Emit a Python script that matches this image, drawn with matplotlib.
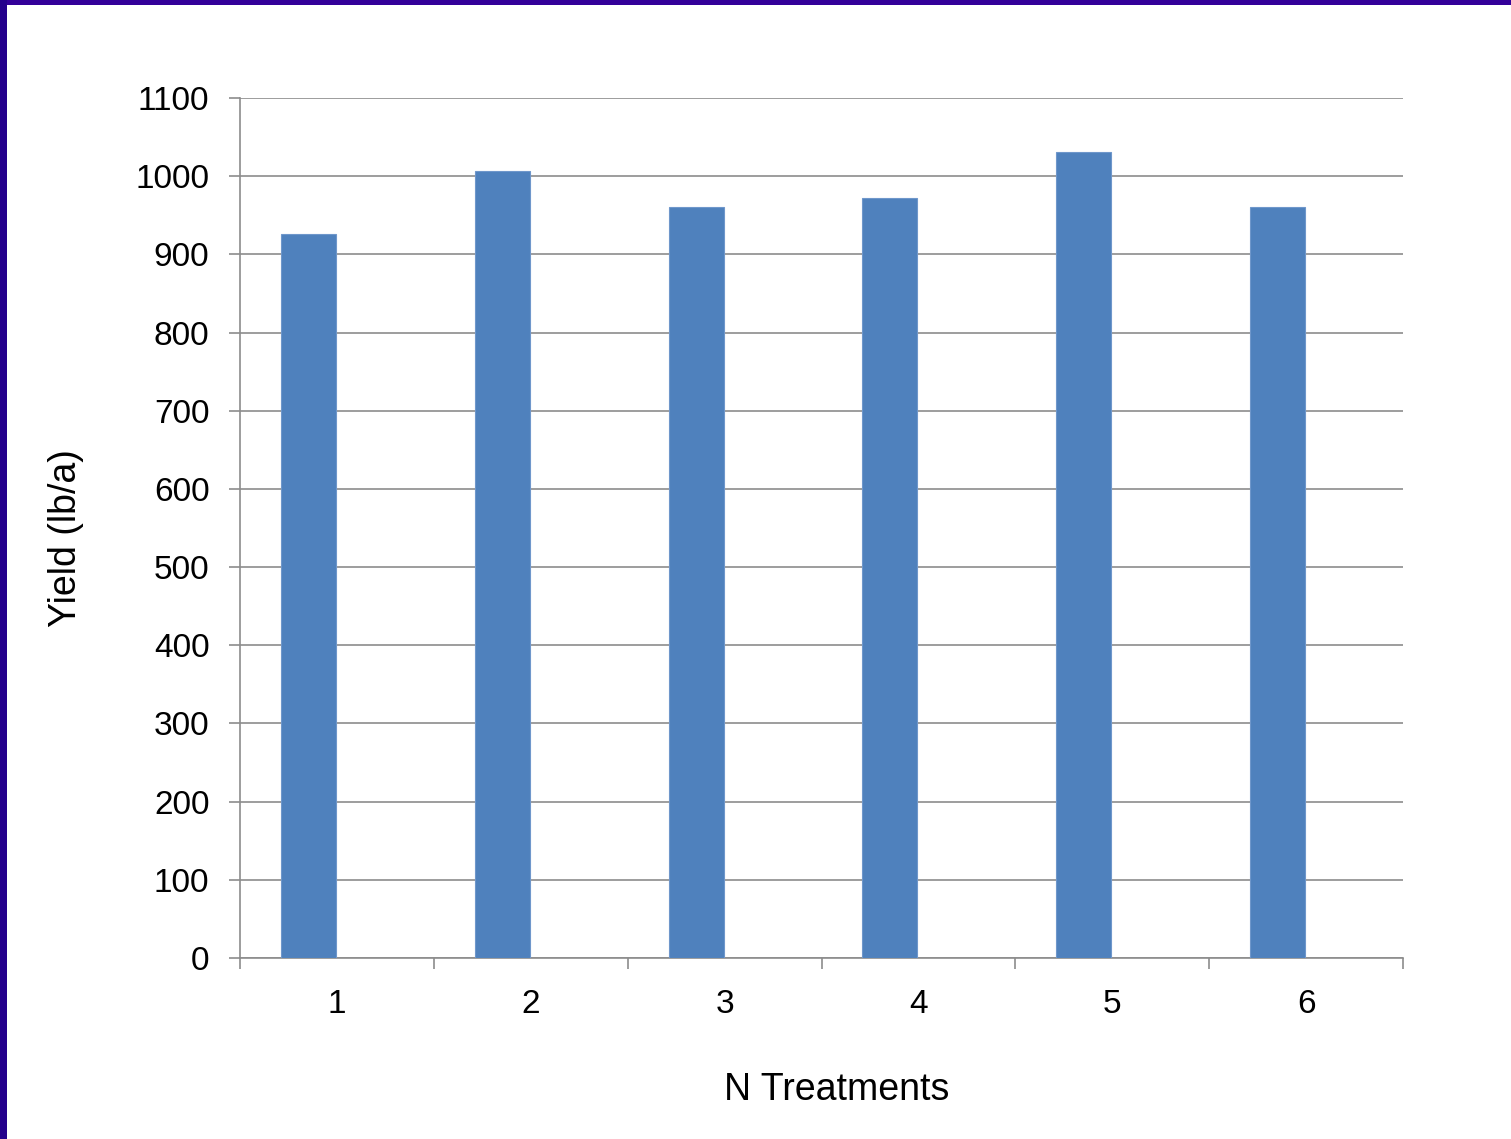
import matplotlib
matplotlib.use("Agg")
import matplotlib.pyplot as plt
import numpy as np
from matplotlib.patches import Rectangle

plt.rcParams['font.family'] = ['Liberation Sans', 'DejaVu Sans']

treatments = ["1", "2", "3", "4", "5", "6"]
yield_lb_a = [926, 1006, 960, 972, 1031, 960]
y_ticks = [0, 100, 200, 300, 400, 500, 600, 700, 800, 900, 1000, 1100]

W, H = 1511, 1139
fig = plt.figure(figsize=(W / 100, H / 100), dpi=100)
fig.patch.set_facecolor("white")

# slide frame: dark violet strips along the top and left edges
fig.add_artist(Rectangle((0, 1 - 5 / H), 1, 5 / H, transform=fig.transFigure,
                         facecolor="#330099", edgecolor="none", zorder=5))
fig.add_artist(Rectangle((0, 0), 7 / W, 1, transform=fig.transFigure,
                         facecolor="#24008c", edgecolor="none", zorder=5))

left, right, top, bottom = 240, 1403, 98, 958
ax = fig.add_axes([left / W, 1 - bottom / H, (right - left) / W, (bottom - top) / H])

x = np.arange(1, len(treatments) + 1)
bar_w = 0.284
ax.bar(x - 0.005, yield_lb_a, width=-bar_w, align="edge", color="#4f81bd",
       edgecolor="#6f97cb", linewidth=0.8, zorder=3)

ax.set_xlim(0.5, len(treatments) + 0.5)
ax.set_ylim(0, 1100)
ax.set_yticks(y_ticks)
ax.set_yticklabels([str(v) for v in y_ticks])
ax.grid(axis="y", color="#8c8c8c", linewidth=1.2, zorder=0)
ax.set_axisbelow(True)

ax.set_xticks(x)
ax.set_xticklabels(treatments)
ax.set_xticks(np.arange(0.5, len(treatments) + 1.0, 1.0), minor=True)
ax.tick_params(axis="x", which="major", length=0, pad=22, labelsize=24)
ax.tick_params(axis="x", which="minor", length=8, width=1.2, color="#8c8c8c")
ax.tick_params(axis="y", length=8, width=1.2, color="#8c8c8c", pad=14, labelsize=24)

for s in ["top", "right"]:
    ax.spines[s].set_visible(False)
for s in ["left", "bottom"]:
    ax.spines[s].set_color("#8c8c8c")
    ax.spines[s].set_linewidth(1.2)

fig.text(837 / W, 1 - 1090 / H, "N Treatments", fontsize=27,
         ha="center", va="center")
fig.text(66 / W, 1 - 538 / H, "Yield (lb/a)", fontsize=27,
         ha="center", va="center", rotation=90)

fig.savefig("out.png", dpi=100)
